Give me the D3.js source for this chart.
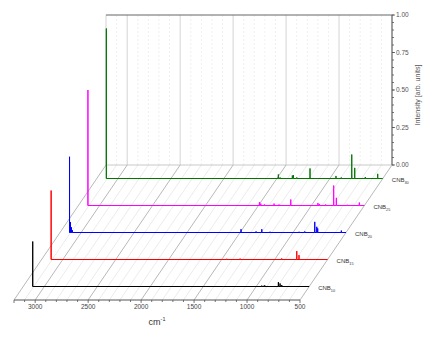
<!DOCTYPE HTML>
<meta charset="utf-8">
<html>
	<head>
		<script src="https://cdnjs.cloudflare.com/ajax/libs/d3/7.8.5/d3.min.js"></script>
		<style>
			body
			{
				margin: 0;
				background: #fff;
				font-family: 'Liberation Sans', Arial, sans-serif;
			}
		</style>
	</head>
	<body>
		<svg width="436" height="337"></svg>

		<script>

		// Data (wavenumber in cm-1, normalised intensity)

		var seriesLabels = ["10", "15", "20", "25", "30"];
		var seriesDepth = [0.1, 0.3, 0.5, 0.7, 0.9];   // position of each trace along the depth axis
		var seriesStart = 3110;                        // traces start at the edge spike

		var peaksCNB10 = [[3110, 0.30], [1483, 0.003], [1311, 0.003], [948, 0.006], [924, 0.007], [917, 0.005],
			[791, 0.029], [775, 0.02], [759, 0.01]];
		var peaksCNB15 = [[3110, 0.46], [1452, 0.005], [1326, 0.006], [933, 0.007], [791, 0.056], [770, 0.029]];
		var peaksCNB20 = [[3110, 0.505], [3101, 0.07], [3092, 0.035], [3083, 0.015], [1491, 0.022], [1349, 0.007],
			[1295, 0.022], [1217, 0.005], [943, 0.005], [889, 0.007], [795, 0.071], [776, 0.038], [767, 0.027], [544, 0.013]];
		var peaksCNB25 = [[3110, 0.77], [1491, 0.022], [1478, 0.013], [1444, 0.007], [1353, 0.013], [1306, 0.007],
			[1195, 0.04], [939, 0.017], [926, 0.01], [866, 0.007], [790, 0.133], [765, 0.051], [661, 0.005], [548, 0.02]];
		var peaksCNB30 = [[3110, 1.0], [1486, 0.027], [1470, 0.007], [1354, 0.02], [1344, 0.023], [1312, 0.007],
			[1187, 0.067], [942, 0.017], [892, 0.007], [793, 0.16], [765, 0.071], [665, 0.01], [548, 0.031]];

		var allPeaks = [peaksCNB10, peaksCNB15, peaksCNB20, peaksCNB25, peaksCNB30];

		var xTickValues = [3000, 2500, 2000, 1500, 1000, 500];
		var yTickValues = [0, 0.25, 0.5, 0.75, 1];

		// Styles

		var seriesColors = ["#000000", "#ff0000", "#0000ff", "#ff00ff", "#007800"];

		// Geometry of the pseudo 3D box

		var svg = d3.select("svg");
		var frontY = 300;          // front x axis
		var depthDx = 92;          // shift of the back wall
		var depthDy = 135;
		var wallHeight = 150;

		var x = d3.scaleLinear()
				.domain([3200, 500])
				.range([14, 300]);

		var h = d3.scaleLinear()
				.domain([0, 1])
				.range([0, wallHeight]);

		function px(wn, z) { return x(wn) + depthDx * z; }
		function py(v, z) { return frontY - depthDy * z - h(v); }

		var gridTicks = d3.range(3200, 499, -100);
		function isMajor(wn) { return wn % 500 === 0 || wn === 3200; }

		// floor lines, one for every tick
		svg.append("g")
			.selectAll("line")
			.data(gridTicks)
			.join("line")
				.attr("x1", function(d) { return px(d, 0); })
				.attr("y1", frontY)
				.attr("x2", function(d) { return px(d, 1); })
				.attr("y2", frontY - depthDy)
				.attr("stroke", function(d) { return isMajor(d) ? "#999" : "#e2e2e2"; })
				.attr("stroke-width", 0.7);

		// back wall grid
		svg.append("g")
			.selectAll("line")
			.data(gridTicks)
			.join("line")
				.attr("x1", function(d) { return px(d, 1); })
				.attr("y1", py(0, 1))
				.attr("x2", function(d) { return px(d, 1); })
				.attr("y2", py(1, 1))
				.attr("stroke", function(d) { return isMajor(d) ? "#c8c8c8" : "#ececec"; })
				.attr("stroke-dasharray", function(d) { return isMajor(d) ? null : "2,2"; })
				.attr("stroke-width", 0.8);

		// bottom edge of the back wall
		svg.append("line")
			.attr("x1", px(3200, 1)).attr("x2", px(500, 1))
			.attr("y1", py(0, 1)).attr("y2", py(0, 1))
			.attr("stroke", "#bbb")
			.attr("stroke-width", 0.8);

		// top edge of the back wall
		svg.append("line")
			.attr("x1", px(3200, 1)).attr("x2", px(500, 1))
			.attr("y1", py(1, 1)).attr("y2", py(1, 1))
			.attr("stroke", "#666")
			.attr("stroke-width", 1.2);

		// Intensity axis on the right of the back wall
		var rightX = px(500, 1);
		var yAxis = svg.append("g");

		yAxis.append("line")
			.attr("x1", rightX).attr("x2", rightX)
			.attr("y1", py(0, 1)).attr("y2", py(1, 1))
			.attr("stroke", "#555")
			.attr("stroke-width", 1);

		yAxis.selectAll(".minor")
			.data(d3.range(0, 1.0001, 0.05))
			.join("line")
				.attr("class", "minor")
				.attr("x1", rightX)
				.attr("x2", rightX + 2)
				.attr("y1", function(d) { return py(d, 1); })
				.attr("y2", function(d) { return py(d, 1); })
				.attr("stroke", "#555")
				.attr("stroke-width", 0.8);

		yAxis.selectAll(".major")
			.data(yTickValues)
			.join("line")
				.attr("class", "major")
				.attr("x1", rightX)
				.attr("x2", rightX + 3)
				.attr("y1", function(d) { return py(d, 1); })
				.attr("y2", function(d) { return py(d, 1); })
				.attr("stroke", "#555")
				.attr("stroke-width", 0.8);

		yAxis.selectAll("text")
			.data(yTickValues)
			.join("text")
				.attr("x", rightX + 4)
				.attr("y", function(d) { return py(d, 1) + 2.3; })
				.attr("font-size", 6.5)
				.attr("fill", "#555")
				.text(function(d) { return d3.format(".2f")(d); });

		svg.append("text")
			.attr("transform", "translate(419.5,95) rotate(-90)")
			.attr("text-anchor", "middle")
			.attr("font-size", 7)
			.attr("fill", "#555")
			.text("Intensity [arb. units]");

		// Front wavenumber axis
		var xAxis = svg.append("g");

		xAxis.append("line")
			.attr("x1", x(3200)).attr("x2", x(500))
			.attr("y1", frontY).attr("y2", frontY)
			.attr("stroke", "#555")
			.attr("stroke-width", 1);

		xAxis.selectAll(".tick")
			.data(gridTicks)
			.join("line")
				.attr("class", "tick")
				.attr("x1", function(d) { return x(d); })
				.attr("x2", function(d) { return x(d); })
				.attr("y1", frontY)
				.attr("y2", function(d) { return frontY + (isMajor(d) ? 3 : 2); })
				.attr("stroke", "#555")
				.attr("stroke-width", 0.8);

		xAxis.selectAll("text")
			.data(xTickValues)
			.join("text")
				.attr("x", function(d) { return x(d); })
				.attr("y", 309)
				.attr("text-anchor", "middle")
				.attr("font-size", 6.5)
				.attr("fill", "#444")
				.text(function(d) { return d; });

		var xTitle = svg.append("text")
			.attr("x", 157)
			.attr("y", 325)
			.attr("text-anchor", "middle")
			.attr("font-size", 9)
			.attr("fill", "#333");
		xTitle.append("tspan").text("cm");
		xTitle.append("tspan").attr("font-size", 5.5).attr("dy", -4).text("-1");

		// Spectra, drawn back to front

		var line = d3.line()
				.x(function(d) { return d.px; })
				.y(function(d) { return d.py; });

		function stickPoints(peaks, z)
		{
			var pts = [{ px: px(seriesStart, z), py: py(0, z) }];
			peaks.slice().sort(function(a, b) { return b[0] - a[0]; }).forEach(function(p) {
				pts.push({ px: px(p[0], z), py: py(0, z) });
				pts.push({ px: px(p[0], z), py: py(p[1], z) });
				pts.push({ px: px(p[0], z), py: py(0, z) });
			});
			pts.push({ px: px(500, z), py: py(0, z) });
			return pts;
		}

		for (var i = allPeaks.length - 1; i >= 0; i--)
		{
			var z = seriesDepth[i];

			svg.append("path")
				.datum(stickPoints(allPeaks[i], z))
				.attr("d", line)
				.attr("fill", "none")
				.attr("stroke", seriesColors[i])
				.attr("stroke-width", 1);

			var label = svg.append("text")
				.attr("x", px(500, z) + 9)
				.attr("y", py(0, z) + 3.5)
				.attr("font-size", 6)
				.attr("fill", "#333");
			label.append("tspan").text("CNB");
			label.append("tspan").attr("font-size", 3.8).attr("dy", 1.5).text(seriesLabels[i]);
		}

		</script>
	</body>
</html>
